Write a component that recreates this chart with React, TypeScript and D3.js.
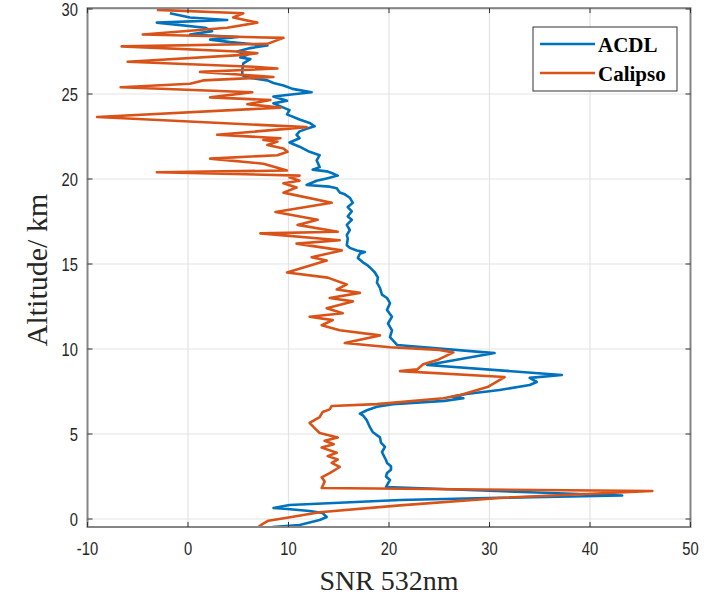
import React from "react";
import * as d3 from "d3";

const acdlAlt = [-0.47,-0.35,-0.06,0.12,0.35,0.47,0.59,0.65,0.82,1.12,1.29,1.38,1.88,2.1,2.29,2.5,2.7,2.9,3.1,3.3,3.47,3.7,3.94,4.24,4.5,4.8,5.1,5.4,5.8,6.1,6.2,6.4,6.6,6.75,6.95,7.1,7.2,7.35,7.59,7.88,8.06,8.3,8.47,9.06,9.76,10.24,10.7,11.1,11.5,11.9,12.3,12.7,13.0,13.2,13.6,13.9,14.2,14.5,14.8,14.95,15.1,15.35,15.6,15.7,15.8,15.95,16.1,16.5,16.7,17.0,17.3,17.6,17.8,18.1,18.35,18.6,18.9,19.1,19.2,19.45,19.55,19.65,19.9,20.05,20.2,20.35,20.45,20.55,20.7,21.1,21.4,21.6,21.9,22.15,22.4,22.6,22.8,22.95,23.1,23.3,23.5,23.8,24.05,24.2,24.45,24.6,24.85,25.1,25.3,25.5,25.65,25.8,25.95,26.1,26.4,26.8,27.05,27.15,27.3,27.5,27.7,27.85,28.05,28.2,28.35,28.5,28.7,28.9,29.2,29.35,29.5,29.75];
const acdlSnr = [8.4,11.1,13.1,13.8,13.4,12.1,9.9,8.5,10.1,21.1,34.3,43.2,19.7,19.9,20.1,19.7,19.8,20.2,20.2,19.8,19.7,19.5,19.3,19.6,19.2,19.1,18.4,18.1,17.8,17.4,17.1,17.8,18.8,20.4,25.5,27.4,26.3,27.7,31.0,34.0,34.7,34.0,37.2,23.8,30.5,20.8,20.1,20.3,19.9,20.3,19.8,20.1,19.8,19.3,19.1,18.8,18.9,18.6,18.1,17.8,17.4,16.9,17.1,17.6,16.8,16.1,15.8,15.9,15.8,16.1,15.8,16.3,15.9,16.3,15.9,16.4,16.1,15.6,15.1,14.8,14.1,11.8,12.8,13.9,14.9,14.3,13.8,12.4,13.1,12.8,13.1,12.1,11.1,10.1,11.1,10.8,11.1,11.8,12.6,12.1,11.1,9.85,10.1,9.5,8.5,9.85,8.5,12.3,10.4,9.5,8.5,7.9,6.2,5.4,5.4,5.5,6.2,5.2,5.9,4.9,6.2,7.9,4.2,2.2,5.0,0.2,2.4,1.7,-3.1,3.9,0.2,-1.8];

const calipsoAlt = [-0.47,-0.3,-0.1,0.06,0.4,0.8,1.24,1.65,1.82,2.2,2.45,2.7,3.06,3.3,3.5,3.7,3.9,4.2,4.4,4.6,4.8,5.06,5.35,5.65,6.0,6.3,6.45,6.65,6.76,7.1,7.3,7.76,8.35,8.7,8.8,9.1,9.35,9.8,9.95,10.1,10.35,10.8,11.1,11.4,11.7,11.9,12.1,12.4,12.8,13.0,13.3,13.5,13.8,14.2,14.5,15.2,15.4,15.8,16.2,16.4,16.8,16.9,17.3,17.6,18.06,18.6,19.2,19.5,19.75,19.9,20.1,20.2,20.4,20.5,20.9,21.2,21.4,21.6,21.8,22.0,22.2,22.3,22.4,22.6,23.05,23.65,24.2,24.4,24.65,24.8,25.1,25.4,25.6,25.8,26.0,26.3,26.5,26.6,26.9,27.3,27.4,27.5,27.8,27.95,28.3,28.5,28.9,29.2,29.5,29.75,29.95];
const calipsoSnr = [7.0,7.4,8.0,9.7,13.1,21.1,31.0,46.2,13.3,13.6,13.3,14.1,15.1,14.3,14.9,13.9,14.8,13.3,14.5,13.6,14.9,13.1,12.6,12.1,13.1,13.4,14.1,14.3,18.8,25.4,27.1,29.8,31.5,21.1,22.8,23.4,24.8,26.4,25.0,20.1,15.6,19.1,15.1,13.3,14.4,12.1,15.4,13.8,16.4,14.1,17.1,14.8,15.8,13.9,9.85,13.8,12.3,15.3,10.8,15.1,7.2,14.9,10.9,12.9,8.7,14.3,9.5,10.8,9.5,11.1,10.1,11.1,-3.1,9.85,7.5,2.2,8.9,9.9,9.5,7.9,8.9,7.5,9.2,2.9,11.8,-9.05,9.2,5.9,8.2,2.2,6.4,-6.7,0.2,1.5,8.5,1.2,8.9,6.5,-6.0,5.5,6.9,4.9,-6.6,7.9,9.5,-4.5,3.9,6.9,4.5,5.5,-3.1];

const xTicks = [-10, 0, 10, 20, 30, 40, 50];
const yTicks = [0, 5, 10, 15, 20, 25, 30];
const seriesNames = ["ACDL", "Calipso"];
const seriesColors = ["#0072BD", "#D95319"];

export default function App() {
  const left = 87.5, right = 690.5, top = 9, bottom = 527;
  const x = d3.scaleLinear().domain([-10, 50]).range([left, right]);
  const y = d3.scaleLinear().domain([-0.47, 30]).range([bottom, top]);
  const line = d3
    .line<[number, number]>()
    .x((d) => x(d[1]))
    .y((d) => y(d[0]));
  const acdl = acdlAlt.map((a, i) => [a, acdlSnr[i]] as [number, number]);
  const cal = calipsoAlt.map((a, i) => [a, calipsoSnr[i]] as [number, number]);
  const tickFont = "'Liberation Sans', Arial, sans-serif";
  const serif = "'Liberation Serif', 'Times New Roman', serif";
  const axisTop = y(30.05);
  return (
    <svg width={726} height={600} style={{ display: "block", position: "absolute", left: 0, top: 0 }}>
      <rect width={726} height={600} fill="#fff" />
      <clipPath id="plotclip">
        <rect x={left} y={axisTop} width={right - left} height={bottom - axisTop} />
      </clipPath>
      {xTicks.slice(1, -1).map((t) => (
        <line key={"gx" + t} x1={x(t)} x2={x(t)} y1={axisTop} y2={bottom} stroke="#e3e3e3" strokeWidth={1.2} />
      ))}
      {yTicks.map((t) => (
        <line key={"gy" + t} x1={left} x2={right} y1={y(t)} y2={y(t)} stroke="#e3e3e3" strokeWidth={1.2} />
      ))}
      <g clipPath="url(#plotclip)" fill="none" strokeWidth={2.6} strokeLinejoin="round">
        <path d={line(acdl) || ""} stroke={seriesColors[0]} />
        <path d={line(cal) || ""} stroke={seriesColors[1]} />
      </g>
      <rect x={left} y={axisTop} width={right - left} height={bottom - axisTop} fill="none" stroke="#858585" strokeWidth={2} />
      {xTicks.map((t) => (
        <g key={"tx" + t}>
          <line x1={x(t)} x2={x(t)} y1={bottom} y2={bottom - 5} stroke="#333" strokeWidth={1} />
          <line x1={x(t)} x2={x(t)} y1={axisTop} y2={axisTop + 5} stroke="#333" strokeWidth={1} />
          <text transform={`translate(${x(t)},555) scale(0.82,1)`} textAnchor="middle" fontFamily={tickFont} fontSize={18} fill="#262626">{t}</text>
        </g>
      ))}
      {yTicks.map((t) => (
        <g key={"ty" + t}>
          <line x1={left} x2={left + 5} y1={y(t)} y2={y(t)} stroke="#333" strokeWidth={1} />
          <line x1={right} x2={right - 5} y1={y(t)} y2={y(t)} stroke="#333" strokeWidth={1} />
          <text transform={`translate(78,${y(t) + 6.5}) scale(0.82,1)`} textAnchor="end" fontFamily={tickFont} fontSize={18} fill="#262626">{t}</text>
        </g>
      ))}
      <text x={389} y={590} textAnchor="middle" fontFamily={serif} fontSize={28} fill="#262626">SNR 532nm</text>
      <text transform="translate(47,270) rotate(-90)" textAnchor="middle" fontFamily={serif} fontSize={30} fill="#262626">Altitude/ km</text>
      <g>
        <rect x={533} y={27} width={144} height={64} fill="#fff" stroke="#333" strokeWidth={1} />
        {seriesNames.map((n, i) => (
          <g key={n}>
            <line x1={540} x2={595} y1={44 + i * 29} y2={44 + i * 29} stroke={seriesColors[i]} strokeWidth={2.6} />
            <text x={598} y={52 + i * 29} fontFamily={serif} fontWeight="bold" fontSize={21} fill="#000">{n}</text>
          </g>
        ))}
      </g>
    </svg>
  );
}
